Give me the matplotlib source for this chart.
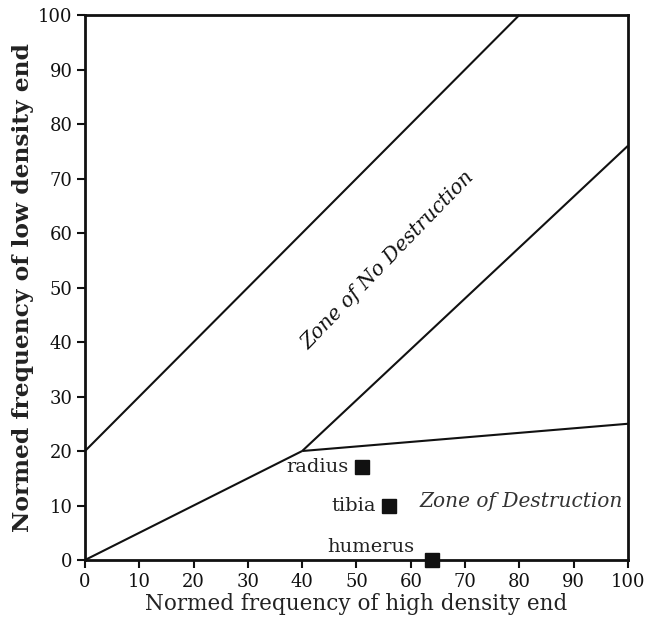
import matplotlib
matplotlib.use("Agg")
import matplotlib.pyplot as plt

# Boundary lines (x, y)
upper_x = [0, 80]
upper_y = [20, 100]
lower_x = [0, 40]
lower_y = [0, 20]
mid_x = [40, 100]
mid_y = [20, 76]
flat_x = [40, 100]
flat_y = [20, 25]

bones = ["radius", "tibia", "humerus"]
bone_x = [51, 56, 64]
bone_y = [17, 10, 0]

ticks = [0, 10, 20, 30, 40, 50, 60, 70, 80, 90, 100]

plt.rcParams['font.family'] = ['DejaVu Serif']

fig = plt.figure(figsize=(6.46, 6.31), dpi=100)
ax = fig.add_axes([0.1316, 0.1125, 0.8404, 0.8637])

for xs, ys in [(upper_x, upper_y), (lower_x, lower_y), (mid_x, mid_y), (flat_x, flat_y)]:
    ax.plot(xs, ys, color='#111111', lw=1.5, solid_capstyle='butt', clip_on=False)

ax.plot(bone_x, bone_y, 's', color='#111111', markersize=10, clip_on=False, zorder=5)

offsets = {"radius": (-2.5, 0, 'right', 'center'),
           "tibia": (-2.4, 0, 'right', 'center'),
           "humerus": (-3.4, 0.8, 'right', 'bottom')}
for name, x, y in zip(bones, bone_x, bone_y):
    dx, dy, ha, va = offsets[name]
    ax.text(x + dx, y + dy, name, ha=ha, va=va, fontsize=14, color='#222222')

ax.text(80.3, 10.8, "Zone of Destruction", style='italic', fontsize=14.5,
        ha='center', va='center', color='#333333')
ax.text(55.8, 55, "Zone of No Destruction", style='italic', fontsize=14.5,
        ha='center', va='center', rotation=46, rotation_mode='anchor', color='#111111')

ax.set_xlim(0, 100)
ax.set_ylim(0, 100)
ax.set_xticks(ticks)
ax.set_yticks(ticks)
ax.tick_params(direction='out', length=6, width=1.5, labelsize=13, colors='#111111', pad=3)
for s in ax.spines.values():
    s.set_linewidth(2)
    s.set_color('#111111')

ax.set_xlabel("Normed frequency of high density end", fontsize=15.5, color='#222222', labelpad=2)
ax.set_ylabel("Normed frequency of low density end", fontsize=16.8, fontweight='bold', color='#222222', labelpad=3)

fig.savefig("out.png", dpi=100)
